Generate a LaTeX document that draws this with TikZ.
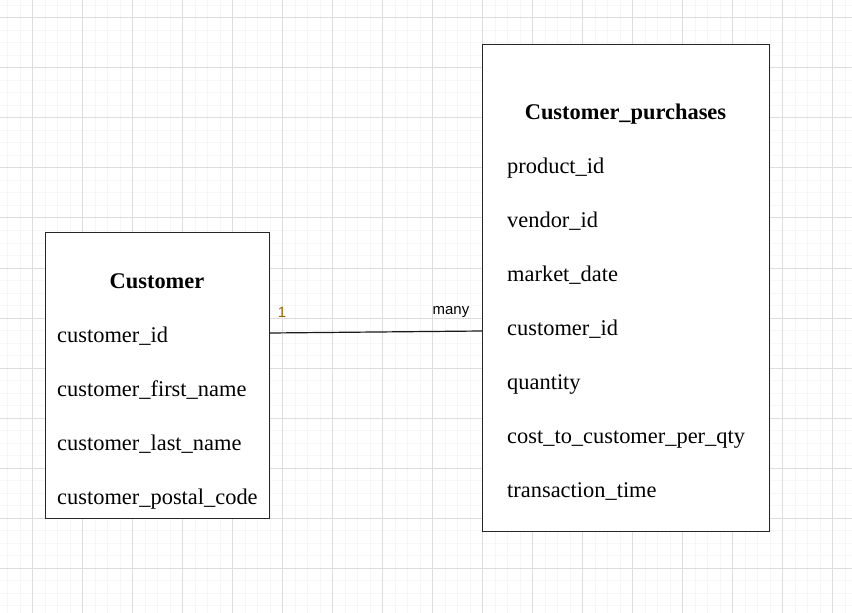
\documentclass[tikz,border=0pt]{standalone}
\usepackage{fontspec}
\setmainfont{Liberation Serif}
\newfontfamily\labelfont{Liberation Sans}
\definecolor{minorgrid}{HTML}{F6F6F6}
\definecolor{majorgrid}{HTML}{DDDDDD}
\definecolor{onecol}{HTML}{996600}
\begin{document}
\begin{tikzpicture}[x=1bp,y=-1bp,
  entity/.style={draw=black!85,line width=1.1bp,fill=white},
  title/.style={font=\fontsize{22.5}{27}\selectfont\bfseries,anchor=center,inner sep=0,text height=15.5bp,text depth=4bp},
  field/.style={font=\fontsize{22.5}{27}\selectfont,anchor=west,inner sep=0,text height=15.5bp,text depth=4bp},
  card/.style={font=\labelfont\fontsize{15}{18}\selectfont,inner sep=0}]
\useasboundingbox (0,0) rectangle (852,613);
\fill[white] (0,0) rectangle (852,613);
% minor grid
\foreach \i in {0,...,68} {
  \draw[minorgrid,line width=1bp] ({7.5+12.5*\i},0) -- ({7.5+12.5*\i},613);
}
\foreach \j in {0,...,49} {
  \draw[minorgrid,line width=1bp] (0,{5.5+12.5*\j}) -- (852,{5.5+12.5*\j});
}
% major grid
\foreach \i in {0,...,16} {
  \draw[majorgrid,line width=1bp] ({32.5+50*\i},0) -- ({32.5+50*\i},613);
}
\foreach \j in {0,...,12} {
  \draw[majorgrid,line width=1bp] (0,{18+50*\j}) -- (852,{18+50*\j});
}
% entities
\node[entity,minimum width=224bp,minimum height=286bp,anchor=north west] (cust) at (45,232) {};
\node[entity,minimum width=287bp,minimum height=487bp,anchor=north west] (purch) at (482,44) {};
% Customer
\node[title] (ct) at (157,283) {Customer};
\node[field] (c1) at (57,337) {customer\_id};
\node[field] (c2) at (57,391) {customer\_first\_name};
\node[field] (c3) at (57,445) {customer\_last\_name};
\node[field] (c4) at (57,499) {customer\_postal\_code};
% Customer_purchases
\node[title] (pt) at (625.5,114) {Customer\_purchases};
\node[field] (p1) at (507,168) {product\_id};
\node[field] (p2) at (507,222) {vendor\_id};
\node[field] (p3) at (507,276) {market\_date};
\node[field] (p4) at (507,330) {customer\_id};
\node[field] (p5) at (507,384) {quantity};
\node[field] (p6) at (507,438) {cost\_to\_customer\_per\_qty};
\node[field] (p7) at (507,492) {transaction\_time};
% connector
\coordinate (a) at (cust.east |- 0,333);
\coordinate (b) at (purch.west |- 0,331);
\draw[black!90,line width=1.2bp] (a) -- (b);
\node[card,text=onecol] (one) at (282,312) {1};
\node[card] (many) at (451,312) {many};
\end{tikzpicture}
\end{document}
